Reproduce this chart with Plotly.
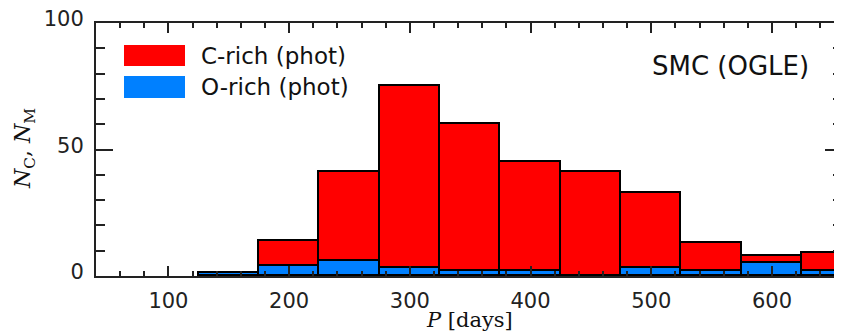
import plotly.graph_objects as go

# Histogram bins (period centres, days) and counts
bin_centers = [150, 200, 250, 300, 350, 400, 450, 500, 550, 600, 650]
bin_width = 50
o_rich = [1, 4, 6, 3, 2, 2, 0, 3, 2, 5, 2]
c_rich = [0, 10, 35, 72, 58, 43, 41, 30, 11, 3, 7]

x_ticks = [100, 200, 300, 400, 500, 600]
y_ticks = [0, 50, 100]

RED = "#FF0000"
BLUE = "#0080FF"
AX = "#222222"
FONT = "DejaVu Sans"

fig = go.Figure()
fig.add_trace(go.Bar(
    x=bin_centers, y=o_rich, width=[bin_width] * len(bin_centers),
    marker=dict(color=BLUE, line=dict(color="black", width=1.6)),
    name="O-rich (phot)", showlegend=False,
))
fig.add_trace(go.Bar(
    x=bin_centers, y=c_rich, width=[bin_width] * len(bin_centers),
    marker=dict(color=RED, line=dict(color="black", width=1.6)),
    name="C-rich (phot)", showlegend=False,
))

# The page body has an 8px margin, so the figure starts at (8, 8) on screen.
OFF = 8
W, H = 842 - OFF, 334 - OFF
L, R, T, B = 96 - OFF, 0, 23 - OFF, 58
pw, ph = W - L - R, H - T - B


def px2x(px):  # screen x -> paper
    return (px - OFF - L) / pw


def py2y(py):  # screen y -> paper
    return (H - B - (py - OFF)) / ph


fig.update_layout(
    barmode="stack",
    bargap=0,
    width=W, height=H,
    margin=dict(l=L, r=R, t=T, b=B, pad=0, autoexpand=False),
    paper_bgcolor="white",
    plot_bgcolor="white",
    font=dict(family=FONT, color=AX),
    showlegend=False,
)

fig.update_xaxes(
    range=[40, 658],
    tickvals=x_ticks,
    ticktext=[str(v) for v in x_ticks],
    ticks="inside", ticklen=10, tickwidth=2, tickcolor=AX,
    minor=dict(dtick=20, tick0=0, ticks="inside", ticklen=5, tickwidth=1.5, tickcolor=AX),
    showline=True, linecolor=AX, linewidth=2, mirror="ticks",
    showgrid=False, zeroline=False,
    tickfont=dict(family=FONT, size=21, color=AX),
    ticklabelstandoff=5,
)
fig.update_yaxes(
    range=[0, 100],
    tickvals=y_ticks,
    ticktext=[str(v) for v in y_ticks],
    ticks="inside", ticklen=17, tickwidth=2, tickcolor=AX,
    minor=dict(dtick=10, tick0=0, ticks="inside", ticklen=9, tickwidth=1.5, tickcolor=AX),
    showline=True, linecolor=AX, linewidth=2, mirror="ticks",
    showgrid=False, zeroline=False,
    tickfont=dict(family=FONT, size=21, color=AX),
    ticklabelstandoff=6,
    ticklabelshift=-4,
    ticklabeloverflow="allow",
)

# Manual legend swatches
fig.add_shape(type="rect", xref="paper", yref="paper",
              x0=px2x(124), x1=px2x(185), y0=py2y(66), y1=py2y(45),
              fillcolor=RED, line=dict(width=0))
fig.add_shape(type="rect", xref="paper", yref="paper",
              x0=px2x(124), x1=px2x(185), y0=py2y(98), y1=py2y(76),
              fillcolor=BLUE, line=dict(width=0))

annotations = [
    dict(text="C-rich (phot)", x=px2x(199), y=py2y(56), xanchor="left", yanchor="middle",
         font=dict(family=FONT, size=23, color="#111")),
    dict(text="O-rich (phot)", x=px2x(199), y=py2y(87), xanchor="left", yanchor="middle",
         font=dict(family=FONT, size=23, color="#111")),
    dict(text="SMC (OGLE)", x=px2x(730), y=py2y(66), xanchor="center", yanchor="middle",
         font=dict(family=FONT, size=26, color="#111")),
    dict(text="<i>P</i> [days]", x=px2x(469), y=py2y(320), xanchor="center", yanchor="middle",
         font=dict(family="DejaVu Serif", size=21, color="#111")),
    dict(text="<i>N</i><sub>C</sub>, <i>N</i><sub>M</sub>", x=px2x(24), y=py2y(149),
         xanchor="center", yanchor="middle", textangle=-90,
         font=dict(family="DejaVu Serif", size=22, color="#111")),
]
for a in annotations:
    a.update(xref="paper", yref="paper", showarrow=False)
    fig.add_annotation(**a)

fig.write_html("out.html")
